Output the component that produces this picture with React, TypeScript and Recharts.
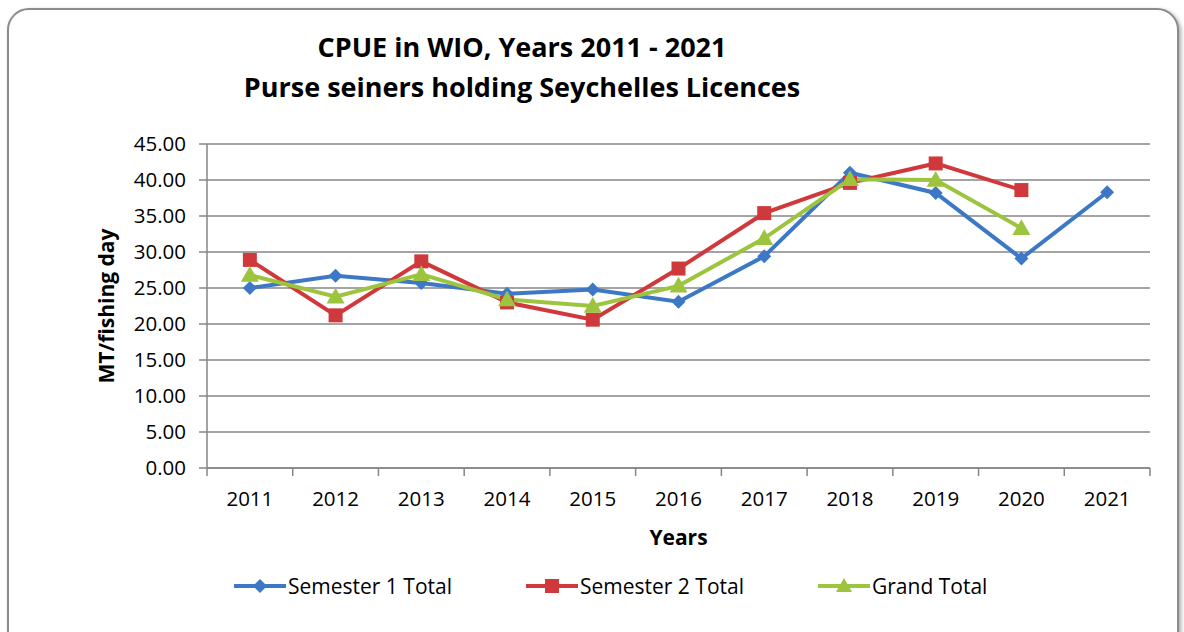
import React from 'react';
import {
  LineChart,
  Line,
  XAxis,
  YAxis,
  CartesianGrid,
  Label,
} from 'recharts';

// values (MT per fishing day)
const years = ['2011', '2012', '2013', '2014', '2015', '2016', '2017', '2018', '2019', '2020', '2021'];
const semester1 = [25.0, 26.7, 25.7, 24.2, 24.8, 23.1, 29.4, 41.0, 38.2, 29.1, 38.3];
const semester2 = [28.9, 21.2, 28.7, 23.0, 20.6, 27.7, 35.4, 39.6, 42.3, 38.6, null];
const grandTotal = [26.8, 23.8, 26.9, 23.4, 22.5, 25.3, 31.9, 40.1, 40.0, 33.3, null];
const yTicks = [0, 5, 10, 15, 20, 25, 30, 35, 40, 45];

const chartData = years.map((year, i) => ({
  year,
  s1: semester1[i],
  s2: semester2[i],
  gt: grandTotal[i],
}));

const BLUE = '#3c78c6';
const RED = '#d0393c';
const GREEN = '#9cc43e';
const FONT = '"Open Sans", Lato, sans-serif';
const TICK_SIZE = 20.5;

const W = 1184;
const H = 632;
const X_AXIS_H = 80;
const MARGIN = { top: 144, right: 34, left: 142, bottom: 164 - X_AXIS_H };
const Y_AXIS_W = 65;
const PLOT_W = W - MARGIN.left - Y_AXIS_W - MARGIN.right;
const BAND = PLOT_W / years.length;

const Diamond = (props: any) => {
  const { cx, cy, fill } = props;
  if (cx == null || cy == null || props.value == null) return null;
  const r = 7;
  return <polygon points={`${cx},${cy - r} ${cx + r},${cy} ${cx},${cy + r} ${cx - r},${cy}`} fill={fill} />;
};

const Square = (props: any) => {
  const { cx, cy, fill } = props;
  if (cx == null || cy == null || props.value == null) return null;
  const s = 7;
  return <rect x={cx - s} y={cy - s} width={s * 2} height={s * 2} fill={fill} />;
};

const Triangle = (props: any) => {
  const { cx, cy, fill } = props;
  if (cx == null || cy == null || props.value == null) return null;
  const r = 9;
  return <polygon points={`${cx},${cy - r} ${cx + r},${cy + r * 0.75} ${cx - r},${cy + r * 0.75}`} fill={fill} />;
};

// Excel style: tick marks sit between the categories, not under them
const YearTick = (props: any) => {
  const { x, y, payload, index } = props;
  const left = x - BAND / 2;
  return (
    <g>
      <line x1={left} y1={y - 8} x2={left} y2={y} stroke="#868686" strokeWidth={1.5} />
      {index === years.length - 1 && (
        <line x1={x + BAND / 2} y1={y - 8} x2={x + BAND / 2} y2={y} stroke="#868686" strokeWidth={1.5} />
      )}
      <text x={x} y={y + 30} textAnchor="middle" fill="#000" fontSize={TICK_SIZE} fontFamily={FONT}>
        {payload.value}
      </text>
    </g>
  );
};

const legendItems = [
  { label: 'Semester 1 Total', color: BLUE, shape: 'diamond', left: 234 },
  { label: 'Semester 2 Total', color: RED, shape: 'square', left: 526 },
  { label: 'Grand Total', color: GREEN, shape: 'triangle', left: 818 },
];

const LegendMark = ({ color, shape }: { color: string; shape: string }) => (
  <svg width={52} height={20} style={{ display: 'block' }}>
    <line x1={0} y1={10} x2={52} y2={10} stroke={color} strokeWidth={4} />
    {shape === 'diamond' && <polygon points="26,3 33,10 26,17 19,10" fill={color} />}
    {shape === 'square' && <rect x={19} y={3} width={14} height={14} fill={color} />}
    {shape === 'triangle' && <polygon points="26,2 34,16 18,16" fill={color} />}
  </svg>
);

export default function App() {
  return (
    <div style={{ position: 'absolute', left: 0, top: 0, width: W, height: H, overflow: 'hidden', background: '#fff' }}>
      <div
        style={{
          position: 'absolute',
          left: 7,
          top: 8,
          width: 1168,
          height: 650,
          border: '2px solid #8c8c8c',
          borderRadius: 22,
          boxShadow: '2px 2px 4px rgba(0,0,0,0.35)',
          background: '#fff',
        }}
      />
      <div
        style={{
          position: 'absolute',
          left: 0,
          width: 1044,
          top: 27,
          textAlign: 'center',
          fontFamily: FONT,
          fontWeight: 700,
          fontSize: 27,
          lineHeight: '40px',
          color: '#000',
        }}
      >
        <div>CPUE in WIO, Years 2011 - 2021</div>
        <div>Purse seiners holding Seychelles Licences</div>
      </div>
      <div style={{ position: 'absolute', left: 0, top: 0 }}>
        <LineChart width={W} height={H} data={chartData} margin={MARGIN}>
          <CartesianGrid vertical={false} stroke="#868686" strokeWidth={1.5} />
          <XAxis
            dataKey="year"
            axisLine={{ stroke: '#868686', strokeWidth: 1.5 }}
            tickLine={false}
            tick={<YearTick />}
            interval={0}
            height={X_AXIS_H}
            padding={{ left: BAND / 2, right: BAND / 2 }}
          >
            <Label
              value="Years"
              position="insideBottom"
              offset={3}
              style={{ fontFamily: FONT, fontSize: 21, fontWeight: 700, fill: '#000' }}
            />
          </XAxis>
          <YAxis
            domain={[0, 45]}
            ticks={yTicks}
            width={Y_AXIS_W}
            tickFormatter={(v: number) => v.toFixed(2)}
            axisLine={{ stroke: '#868686', strokeWidth: 1.5 }}
            tickLine={{ stroke: '#868686', strokeWidth: 1.5 }}
            tickSize={8}
            tickMargin={13}
            tick={{ fill: '#000', fontSize: TICK_SIZE, fontFamily: FONT }}
          >
            <Label
              value="MT/fishing day"
              angle={-90}
              position="insideLeft"
              dx={-40}
              style={{ fontFamily: FONT, fontSize: 21, fontWeight: 700, fill: '#000', textAnchor: 'middle' }}
            />
          </YAxis>
          <Line
            type="linear"
            dataKey="s1"
            name="Semester 1 Total"
            stroke={BLUE}
            strokeWidth={4}
            fill={BLUE}
            dot={<Diamond fill={BLUE} />}
            isAnimationActive={false}
          />
          <Line
            type="linear"
            dataKey="s2"
            name="Semester 2 Total"
            stroke={RED}
            strokeWidth={4}
            fill={RED}
            dot={<Square fill={RED} />}
            isAnimationActive={false}
          />
          <Line
            type="linear"
            dataKey="gt"
            name="Grand Total"
            stroke={GREEN}
            strokeWidth={4}
            fill={GREEN}
            dot={<Triangle fill={GREEN} />}
            isAnimationActive={false}
          />
        </LineChart>
      </div>
      {legendItems.map((item) => (
        <div
          key={item.label}
          style={{
            position: 'absolute',
            left: item.left,
            top: 574,
            display: 'flex',
            alignItems: 'center',
            fontFamily: FONT,
            fontSize: 21,
            color: '#000',
            lineHeight: '24px',
          }}
        >
          <LegendMark color={item.color} shape={item.shape} />
          <span style={{ marginLeft: 2 }}>{item.label}</span>
        </div>
      ))}
    </div>
  );
}
